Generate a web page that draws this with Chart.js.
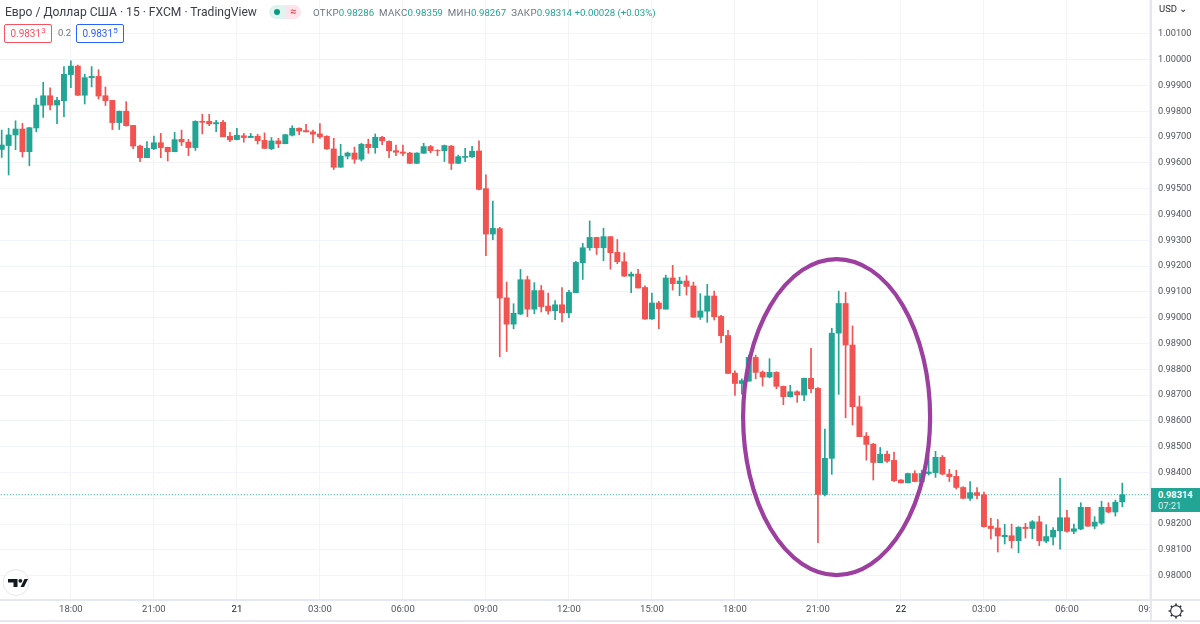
<!DOCTYPE html>
<html lang="ru">

<head>
    <meta charset="UTF-8">
    <title>Евро / Доллар США</title>
    <script src="https://cdn.jsdelivr.net/npm/chart.js"></script>
    <style>
        html, body { margin: 0; padding: 0; background: #fff; overflow: hidden; }
        #wrap { position: relative; width: 1200px; height: 624px; font-family: Roboto, sans-serif; color: #131722; }
        canvas { position: absolute; left: 0; top: 0; }
        .txt { position: absolute; white-space: nowrap; }
        #titulo { left: 5px; top: 5px; font-size: 12.1px; line-height: 15px; color: #3a3e4a; }
        #ohlc { left: 313px; top: 6px; font-size: 9.7px; line-height: 13px; color: #6f7380; letter-spacing: 0.3px; }
        #ohlc b { font-weight: 400; color: #22a595; margin-right: 5px; letter-spacing: 0; }
        .badge { position: absolute; top: 5px; height: 14px; width: 16px; }
        #b1 { left: 269px; background: #dff3ef; border-radius: 7px 0 0 7px; }
        #b1 i { position: absolute; left: 5px; top: 4px; width: 6px; height: 6px; border-radius: 50%; background: #089981; }
        #b2 { left: 285px; background: #fde4ea; border-radius: 0 7px 7px 0; color: #f23645; font-size: 11px; line-height: 13px; text-align: center; }
        .caixa { position: absolute; top: 24px; height: 17px; width: 46px; border: 1px solid; border-radius: 2px; font-size: 10px; line-height: 17px; text-align: center; }
        .caixa sup { font-size: 8px; line-height: 0; }
        #cx1 { left: 4px; color: #f7525f; border-color: #f7525f; }
        #cx2 { left: 76px; color: #2962ff; border-color: #2962ff; }
        #spread { left: 58px; top: 27px; font-size: 9.5px; line-height: 12px; color: #6f7380; }
        #moeda { left: 1159px; top: 3px; font-size: 9.5px; line-height: 12px; color: #2a2e39; }
        #etiqueta { position: absolute; left: 1151px; top: 488px; width: 49px; height: 24px; background: #22a595; color: #fff; text-align: left; font-size: 9.3px; line-height: 11px; padding-left: 7px; box-sizing: border-box; padding-top: 1px; }
        #etiqueta span { display: block; opacity: 0.85; }
        #etiqueta strong { display: block; font-weight: 700; }
        svg { position: absolute; }
    </style>
</head>

<body>
    <div id="wrap">
        <canvas id="grafico" width="1200" height="624"></canvas>

        <div class="txt" id="titulo">Евро / Доллар США · 15 · FXCM · TradingView</div>
        <div class="badge" id="b1"><i></i></div>
        <div class="badge" id="b2">≈</div>
        <div class="txt" id="ohlc">ОТКР<b>0.98286</b>МАКС<b>0.98359</b>МИН<b>0.98267</b>ЗАКР<b>0.98314 +0.00028 (+0.03%)</b></div>
        <div class="caixa" id="cx1">0.9831<sup>3</sup></div>
        <div class="txt" id="spread">0.2</div>
        <div class="caixa" id="cx2">0.9831<sup>5</sup></div>
        <div class="txt" id="moeda">USD ⌄</div>
        <div id="etiqueta"><strong>0.98314</strong><span>07:21</span></div>

        <svg style="left:2px;top:568px" width="30" height="30" viewBox="0 0 30 30">
            <circle cx="14" cy="14.5" r="13" fill="#fff" stroke="#e6e6ea" />
            <path d="M6 11h9.5v8h-4v-4.5H6z M22.5 11h3.5l-4 8h-3.5z" fill="#131722" />
            <circle cx="18.3" cy="12.8" r="1.9" fill="#131722" />
        </svg>
        <svg style="left:1167px;top:602px" width="18" height="18" viewBox="0 0 18 18" fill="none" stroke="#2a2e39" stroke-width="1.1">
            <circle cx="9" cy="9" r="5.4" />
            <path d="M9 1.6v2 M9 14.4v2 M1.6 9h2 M14.4 9h2 M3.8 3.8l1.4 1.4 M12.8 12.8l1.4 1.4 M3.8 14.2l1.4-1.4 M12.8 5.2l1.4-1.4" stroke-width="1.6" />
        </svg>
    </div>
</body>

</html>
<script>

    // precos de 15 min
    const abertura = [
        0.99652, 0.99667, 0.99708, 0.99731, 0.99643, 0.99735, 0.99823, 0.99860, 0.99824, 0.99841,
        0.99942, 0.99975, 0.99862, 0.99930, 0.99935, 0.99860, 0.99842, 0.99756, 0.99800, 0.99745,
        0.99665, 0.99620, 0.99655, 0.99678, 0.99660, 0.99643, 0.99691, 0.99680, 0.99659, 0.99761,
        0.99761, 0.99751, 0.99757, 0.99703, 0.99690, 0.99705, 0.99698, 0.99703, 0.99687, 0.99655,
        0.99685, 0.99674, 0.99707, 0.99734, 0.99725, 0.99720, 0.99712, 0.99703, 0.99654, 0.99583,
        0.99626, 0.99638, 0.99614, 0.99672, 0.99659, 0.99699, 0.99683, 0.99647, 0.99642, 0.99638,
        0.99598, 0.99637, 0.99663, 0.99648, 0.99647, 0.99665, 0.99598, 0.99621, 0.99623, 0.99646,
        0.99500, 0.99324, 0.99345, 0.99077, 0.98975, 0.99014, 0.99147, 0.99033, 0.99105, 0.99045,
        0.99027, 0.99050, 0.99019, 0.99097, 0.99213, 0.99271, 0.99311, 0.99271, 0.99314, 0.99253,
        0.99217, 0.99161, 0.99169, 0.99117, 0.98995, 0.99057, 0.99033, 0.99154, 0.99132, 0.99142,
        0.99123, 0.99002, 0.99025, 0.99084, 0.99005, 0.98931, 0.98785, 0.98745, 0.98754, 0.98846,
        0.98789, 0.98770, 0.98788, 0.98734, 0.98694, 0.98713, 0.98700, 0.98765, 0.98726, 0.98315,
        0.98455, 0.98940, 0.99055, 0.98894, 0.98655, 0.98541, 0.98510, 0.98438, 0.98471, 0.98447,
        0.98371, 0.98360, 0.98396, 0.98364, 0.98396, 0.98399, 0.98459, 0.98394, 0.98385, 0.98342,
        0.98300, 0.98322, 0.98314, 0.98192, 0.98185, 0.98151, 0.98155, 0.98136, 0.98188, 0.98183,
        0.98209, 0.98134, 0.98150, 0.98174, 0.98225, 0.98172, 0.98181, 0.98265, 0.98192, 0.98204,
        0.98265, 0.98247, 0.98286
    ];
    const maximo = [
        0.99727, 0.99734, 0.99763, 0.99753, 0.99738, 0.99850, 0.99912, 0.99891, 0.99854, 0.99973,
        0.99995, 0.99979, 0.99943, 0.99973, 0.99961, 0.99894, 0.99842, 0.99801, 0.99837, 0.99745,
        0.99669, 0.99682, 0.99704, 0.99714, 0.99661, 0.99718, 0.99727, 0.99691, 0.99763, 0.99788,
        0.99788, 0.99765, 0.99765, 0.99718, 0.99734, 0.99714, 0.99714, 0.99711, 0.99716, 0.99698,
        0.99695, 0.99711, 0.99744, 0.99736, 0.99749, 0.99727, 0.99752, 0.99705, 0.99695, 0.99672,
        0.99642, 0.99661, 0.99676, 0.99692, 0.99712, 0.99703, 0.99685, 0.99669, 0.99669, 0.99641,
        0.99639, 0.99676, 0.99668, 0.99651, 0.99669, 0.99667, 0.99630, 0.99656, 0.99664, 0.99685,
        0.99554, 0.99452, 0.99350, 0.99138, 0.99054, 0.99187, 0.99161, 0.99136, 0.99125, 0.99095,
        0.99066, 0.99117, 0.99106, 0.99218, 0.99288, 0.99375, 0.99311, 0.99347, 0.99314, 0.99303,
        0.99252, 0.99177, 0.99187, 0.99123, 0.99095, 0.99063, 0.99165, 0.99203, 0.99157, 0.99163,
        0.99138, 0.99093, 0.99129, 0.99103, 0.99009, 0.98951, 0.98794, 0.98763, 0.98855, 0.98855,
        0.98794, 0.98841, 0.98791, 0.98735, 0.98738, 0.98717, 0.98766, 0.98881, 0.98729, 0.98568,
        0.98959, 0.99103, 0.99098, 0.98968, 0.98696, 0.98555, 0.98513, 0.98497, 0.98483, 0.98479,
        0.98373, 0.98398, 0.98407, 0.98409, 0.98468, 0.98482, 0.98466, 0.98412, 0.98409, 0.98345,
        0.98365, 0.98342, 0.98324, 0.98222, 0.98218, 0.98199, 0.98200, 0.98190, 0.98203, 0.98214,
        0.98231, 0.98198, 0.98187, 0.98377, 0.98253, 0.98200, 0.98283, 0.98265, 0.98229, 0.98289,
        0.98283, 0.98293, 0.98359
    ];
    const minimo = [
        0.99621, 0.99553, 0.99651, 0.99623, 0.99589, 0.99720, 0.99776, 0.99805, 0.99752, 0.99779,
        0.99891, 0.99860, 0.99828, 0.99894, 0.99847, 0.99822, 0.99729, 0.99729, 0.99742, 0.99655,
        0.99605, 0.99620, 0.99651, 0.99620, 0.99607, 0.99643, 0.99667, 0.99628, 0.99648, 0.99712,
        0.99744, 0.99721, 0.99701, 0.99682, 0.99689, 0.99680, 0.99698, 0.99673, 0.99655, 0.99651,
        0.99659, 0.99674, 0.99704, 0.99709, 0.99720, 0.99678, 0.99695, 0.99652, 0.99574, 0.99583,
        0.99615, 0.99598, 0.99607, 0.99637, 0.99637, 0.99670, 0.99620, 0.99628, 0.99628, 0.99597,
        0.99597, 0.99637, 0.99639, 0.99628, 0.99605, 0.99574, 0.99597, 0.99605, 0.99621, 0.99495,
        0.99240, 0.99302, 0.98849, 0.98869, 0.98957, 0.99012, 0.99004, 0.99015, 0.99022, 0.99014,
        0.98992, 0.98984, 0.99000, 0.99097, 0.99148, 0.99261, 0.99245, 0.99221, 0.99188, 0.99209,
        0.99160, 0.99097, 0.99115, 0.98993, 0.98993, 0.98957, 0.99033, 0.99107, 0.99085, 0.99088,
        0.99001, 0.98993, 0.98982, 0.98991, 0.98903, 0.98783, 0.98699, 0.98704, 0.98754, 0.98763,
        0.98735, 0.98767, 0.98725, 0.98663, 0.98692, 0.98672, 0.98678, 0.98709, 0.98128, 0.98309,
        0.98393, 0.98703, 0.98612, 0.98584, 0.98539, 0.98448, 0.98371, 0.98438, 0.98439, 0.98365,
        0.98360, 0.98360, 0.98364, 0.98364, 0.98390, 0.98381, 0.98391, 0.98365, 0.98336, 0.98298,
        0.98292, 0.98298, 0.98188, 0.98143, 0.98092, 0.98123, 0.98107, 0.98089, 0.98146, 0.98143,
        0.98116, 0.98128, 0.98119, 0.98103, 0.98169, 0.98163, 0.98178, 0.98192, 0.98182, 0.98199,
        0.98244, 0.98231, 0.98267
    ];
    const fechamento = [
        0.99669, 0.99708, 0.99731, 0.99643, 0.99736, 0.99824, 0.99860, 0.99824, 0.99842, 0.99943,
        0.99975, 0.99862, 0.99930, 0.99935, 0.99859, 0.99841, 0.99756, 0.99800, 0.99744, 0.99665,
        0.99620, 0.99656, 0.99678, 0.99659, 0.99643, 0.99690, 0.99681, 0.99659, 0.99761, 0.99757,
        0.99751, 0.99756, 0.99701, 0.99689, 0.99707, 0.99698, 0.99703, 0.99686, 0.99656, 0.99685,
        0.99674, 0.99709, 0.99734, 0.99723, 0.99720, 0.99711, 0.99701, 0.99654, 0.99583, 0.99626,
        0.99638, 0.99614, 0.99672, 0.99659, 0.99699, 0.99685, 0.99647, 0.99641, 0.99637, 0.99598,
        0.99638, 0.99663, 0.99647, 0.99647, 0.99667, 0.99598, 0.99624, 0.99625, 0.99645, 0.99497,
        0.99324, 0.99346, 0.99076, 0.98975, 0.99017, 0.99147, 0.99033, 0.99105, 0.99043, 0.99026,
        0.99050, 0.99019, 0.99098, 0.99214, 0.99271, 0.99311, 0.99271, 0.99314, 0.99252, 0.99217,
        0.99161, 0.99169, 0.99115, 0.98995, 0.99057, 0.99035, 0.99154, 0.99132, 0.99142, 0.99121,
        0.99002, 0.99026, 0.99084, 0.99004, 0.98930, 0.98784, 0.98745, 0.98756, 0.98846, 0.98788,
        0.98770, 0.98788, 0.98734, 0.98694, 0.98713, 0.98701, 0.98765, 0.98725, 0.98315, 0.98455,
        0.98940, 0.99055, 0.98894, 0.98655, 0.98539, 0.98509, 0.98439, 0.98471, 0.98444, 0.98368,
        0.98360, 0.98396, 0.98365, 0.98396, 0.98402, 0.98459, 0.98394, 0.98384, 0.98342, 0.98300,
        0.98322, 0.98311, 0.98190, 0.98183, 0.98154, 0.98157, 0.98136, 0.98188, 0.98183, 0.98209,
        0.98136, 0.98152, 0.98176, 0.98225, 0.98172, 0.98182, 0.98265, 0.98192, 0.98208, 0.98265,
        0.98247, 0.98285, 0.98314
    ];

    // eixo do tempo: posicao em velas e texto
    const horasPos = [10, 22, 34, 46, 58, 70, 82, 94, 106, 118, 130, 142, 154, 166];
    const horasTxt = ['18:00', '21:00', '21', '03:00', '06:00', '09:00', '12:00', '15:00', '18:00', '21:00', '22', '03:00', '06:00', '09:00'];
    const diasTxt = ['21', '22'];

    const precosEixo = [
        1.001, 1.000, 0.999, 0.998, 0.997, 0.996, 0.995, 0.994, 0.993, 0.992, 0.991,
        0.990, 0.989, 0.988, 0.987, 0.986, 0.985, 0.984, 0.983, 0.982, 0.981, 0.980
    ];

    const VERDE = '#22a595';
    const VERMELHO = '#f05350';
    const GRADE = '#f3f4fa';
    const BORDA = '#e6e8f1';

    var cores = fechamento.map(function (c, i) {
        return c >= abertura[i] ? VERDE : VERMELHO;
    });

    var ultimo = fechamento[fechamento.length - 1];

    // anotacao roxa em volta do pico, desenhada por cima das velas
    const circulo = {
        id: 'circulo',
        afterDatasetsDraw: function (chart) {
            var c = chart.ctx;
            var cx = chart.scales.x.getPixelForValue(120.7);
            var cy = chart.scales.y.getPixelForValue(0.98615);
            c.save();
            c.strokeStyle = '#9c3f9f';
            c.lineWidth = 4.2;
            c.beginPath();
            c.ellipse(cx, cy, 93.5, 158, 0, 0, Math.PI * 2);
            c.stroke();
            c.restore();
        }
    };

    // corta o rotulo 09:00 no fim do eixo e fecha as linhas de baixo
    const rodape = {
        id: 'rodape',
        afterDraw: function (chart) {
            var c = chart.ctx;
            c.save();
            c.fillStyle = '#fff';
            c.fillRect(1150, 601, 50, 23);
            c.fillStyle = BORDA;
            c.fillRect(1150, 0, 2, 621);
            c.fillRect(0, 599, 1200, 2);
            c.fillRect(0, 620, 1200, 2);
            c.restore();
        }
    };

    function semMargem(scale) {
        scale.paddingTop = 0;
        scale.paddingBottom = 0;
        scale.paddingLeft = 0;
        scale.paddingRight = 0;
    }

    var Grafico = new Chart(document.getElementById('grafico'), {
        data: {
            datasets: [
                {
                    type: 'bar',
                    data: abertura.map(function (a, i) { return { x: i, y: [a, fechamento[i]] }; }),
                    backgroundColor: cores,
                    barThickness: 5.3,
                    grouped: false,
                    borderWidth: 0,
                    order: 1
                },
                {
                    type: 'bar',
                    data: minimo.map(function (m, i) { return { x: i, y: [m, maximo[i]] }; }),
                    backgroundColor: cores,
                    barThickness: 1,
                    grouped: false,
                    borderWidth: 0,
                    order: 2
                },
                {
                    type: 'line',
                    data: [{ x: -1, y: ultimo }, { x: 167, y: ultimo }],
                    borderColor: VERDE,
                    borderWidth: 1,
                    borderDash: [1, 2],
                    pointRadius: 0,
                    order: 3
                }
            ]
        },
        options: {
            responsive: false,
            animation: false,
            layout: { padding: 0 },
            plugins: {
                legend: { display: false },
                tooltip: { enabled: false }
            },
            scales: {
                x: {
                    type: 'linear',
                    offset: false,
                    min: -0.246,
                    max: 166.15,
                    afterFit: function (scale) { scale.height = 24; semMargem(scale); },
                    afterBuildTicks: function (scale) {
                        scale.ticks = horasPos.map(function (p) { return { value: p }; });
                    },
                    grid: { color: GRADE, drawTicks: false, offset: false },
                    border: { display: false },
                    ticks: {
                        autoSkip: false,
                        maxRotation: 0,
                        padding: 4,
                        color: function (ctx) {
                            return diasTxt.indexOf(horasTxt[ctx.index]) >= 0 ? '#131722' : '#50535e';
                        },
                        font: { family: 'Roboto', size: 9.5 },
                        callback: function (v, i) { return horasTxt[i]; }
                    }
                },
                y: {
                    type: 'linear',
                    position: 'right',
                    min: 0.97906,
                    max: 1.00231,
                    afterFit: function (scale) { scale.width = 49; semMargem(scale); },
                    afterBuildTicks: function (scale) {
                        scale.ticks = precosEixo.map(function (p) { return { value: p }; });
                    },
                    grid: { color: GRADE, drawTicks: false },
                    border: { display: false },
                    ticks: {
                        autoSkip: false,
                        padding: 7,
                        color: '#50535e',
                        font: { family: 'Roboto', size: 9.2 },
                        callback: function (v) { return v.toFixed(5); }
                    }
                }
            }
        },
        plugins: [circulo, rodape]
    });

</script>
